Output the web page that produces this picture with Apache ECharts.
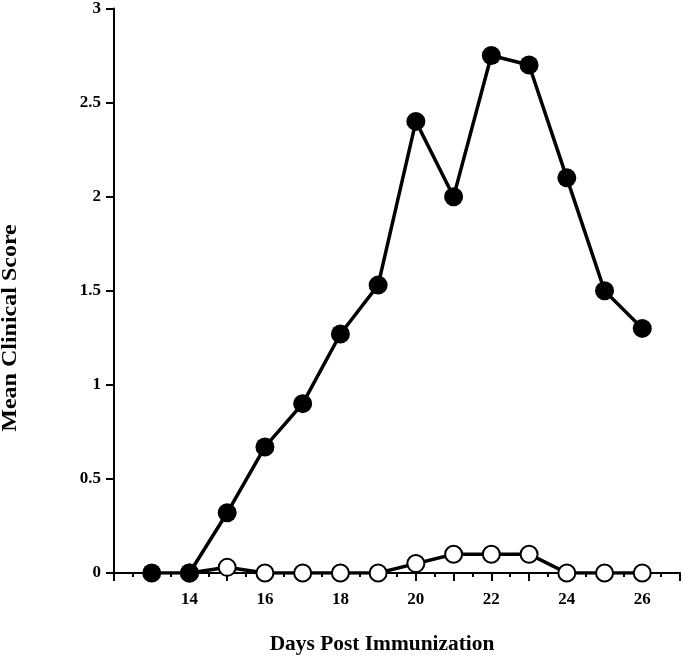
<!DOCTYPE html>
<html>
<head>
<meta charset="utf-8">
<script src="https://cdn.jsdelivr.net/npm/echarts@6/dist/echarts.min.js"></script>
<style>
  html, body { margin: 0; padding: 0; background: #fff; }
  #chart { width: 683px; height: 656px; }
</style>
</head>
<body>
<div id="chart"></div>
<script>
// days post immunization
const daysFilled = [13, 14, 15, 16, 17, 18, 19, 20, 21, 22, 23, 24, 25, 26];
const scoreFilled = [0, 0, 0.32, 0.67, 0.9, 1.27, 1.53, 2.4, 2.0, 2.75, 2.7, 2.1, 1.5, 1.3];
const daysOpen = [14, 15, 16, 17, 18, 19, 20, 21, 22, 23, 24, 25, 26];
const scoreOpen = [0, 0.03, 0, 0, 0, 0, 0.05, 0.1, 0.1, 0.1, 0, 0, 0];
const xLabels = [14, 16, 18, 20, 22, 24, 26];

const font = '"Liberation Serif", "Times New Roman", serif';

const zip = (xs, ys) => xs.map((x, i) => [x, ys[i]]);

const chart = echarts.init(document.getElementById('chart'));

chart.setOption({
  animation: false,
  grid: { left: 114, top: 7, width: 571, height: 566 },
  xAxis: {
    type: 'value',
    min: 12,
    max: 27,
    interval: 1,
    axisLine: { lineStyle: { color: '#000', width: 2 } },
    axisTick: { length: 8, lineStyle: { color: '#000', width: 2 } },
    minorTick: { show: true, splitNumber: 2, length: 4, lineStyle: { color: '#000', width: 2 } },
    axisLabel: {
      margin: 18,
      color: '#000',
      fontFamily: font,
      fontWeight: 'bold',
      fontSize: 17,
      formatter: v => (xLabels.indexOf(v) >= 0 ? String(v) : '')
    },
    splitLine: { show: false }
  },
  yAxis: {
    type: 'value',
    min: 0,
    max: 3,
    interval: 0.5,
    axisLine: { show: true, lineStyle: { color: '#000', width: 2 } },
    axisTick: { show: true, length: 8, lineStyle: { color: '#000', width: 2 } },
    axisLabel: {
      margin: 13,
      color: '#000',
      fontFamily: font,
      fontWeight: 'bold',
      fontSize: 17
    },
    splitLine: { show: false }
  },
  graphic: [
    {
      type: 'text',
      x: 11,
      y: 328,
      rotation: Math.PI / 2,
      scaleX: 1.2,
      style: {
        text: 'Mean Clinical Score',
        fontFamily: font,
        fontWeight: 'bold',
        fontSize: 20,
        fill: '#000',
        align: 'center',
        verticalAlign: 'middle'
      }
    },
    {
      type: 'text',
      x: 382,
      y: 645,
      scaleX: 1.07,
      style: {
        text: 'Days Post Immunization',
        fontFamily: font,
        fontWeight: 'bold',
        fontSize: 20,
        fill: '#000',
        align: 'center',
        verticalAlign: 'middle'
      }
    }
  ],
  series: [
    {
      type: 'line',
      data: zip(daysOpen, scoreOpen),
      symbol: 'circle',
      symbolSize: 17,
      lineStyle: { color: '#000', width: 3.5 },
      itemStyle: { color: '#fff', borderColor: '#000', borderWidth: 2 },
      z: 2
    },
    {
      type: 'line',
      data: zip(daysFilled, scoreFilled),
      symbol: 'circle',
      symbolSize: 19,
      lineStyle: { color: '#000', width: 3.5 },
      itemStyle: { color: '#000', borderColor: '#000', borderWidth: 0 },
      z: 3
    }
  ]
});
</script>
</body>
</html>
